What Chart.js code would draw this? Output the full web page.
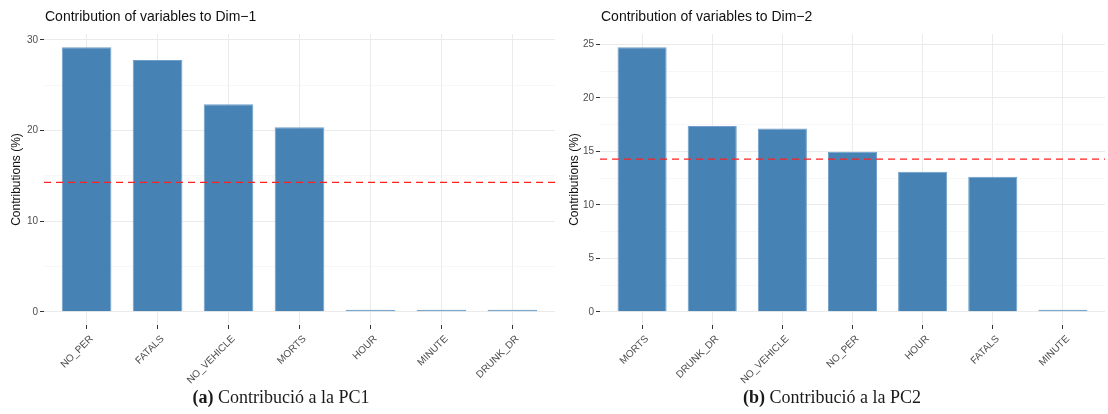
<!DOCTYPE html>
<html>
<head>
<meta charset="utf-8">
<script src="https://cdn.jsdelivr.net/npm/chart.js@4/dist/chart.umd.min.js"></script>
<style>
  body { margin: 0; background: #fff; width: 1108px; height: 414px; position: relative; overflow: hidden; }
  canvas { position: absolute; top: 0; }
  #c1 { left: 0; }
  #c2 { left: 558px; }
  .cap { position: absolute; top: 387px; width: 400px; text-align: center;
         font-family: "Liberation Serif", "DejaVu Serif", serif; font-size: 18px; color: #1a1a1a; }
</style>
</head>
<body>
<canvas id="c1" width="558" height="390"></canvas>
<canvas id="c2" width="550" height="390"></canvas>
<div class="cap" style="left:81px"><b>(a)</b> Contribució a la PC1</div>
<div class="cap" style="left:632px"><b>(b)</b> Contribució a la PC2</div>
<script>
// data
const categories1 = ['NO_PER', 'FATALS', 'NO_VEHICLE', 'MORTS', 'HOUR', 'MINUTE', 'DRUNK_DR'];
const values1 = [29.19, 27.78, 22.89, 20.37, 0.13, 0.11, 0.12];
const categories2 = ['MORTS', 'DRUNK_DR', 'NO_VEHICLE', 'NO_PER', 'HOUR', 'FATALS', 'MINUTE'];
const values2 = [24.75, 17.39, 17.14, 14.97, 13.10, 12.64, 0.19];
const majorTicks1 = [0, 10, 20, 30];
const minorTicks1 = [5, 15, 25];
const majorTicks2 = [0, 5, 10, 15, 20, 25];
const minorTicks2 = [2.5, 7.5, 12.5, 17.5, 22.5];
const refLine = 100 / 7; // expected average contribution (red dashed line)

const BAR = '#4682B4';
const TEXT = '#4d4d4d';

// title aligned with the panel like ggplot
const panelTitle = {
  id: 'panelTitle',
  afterDraw(chart, args, opts) {
    const ctx = chart.ctx;
    ctx.save();
    ctx.font = '14px "Liberation Sans", Arial, sans-serif';
    ctx.fillStyle = '#111';
    ctx.textBaseline = 'alphabetic';
    ctx.fillText(opts.text, chart.chartArea.left + 1, 21);
    ctx.restore();
  }
};

function makeChart(id, cats, vals, majors, minors, title, yWidth, rightPad) {
  const top = Math.max(...vals);
  const ctx = document.getElementById(id).getContext('2d');
  const H = ctx.canvas.height;
  return new Chart(ctx, {
    type: 'bar',
    data: {
      datasets: [
        {
          type: 'line',
          data: [{ x: -0.6, y: refLine }, { x: cats.length - 0.4, y: refLine }],
          borderColor: '#ff2020',
          borderWidth: 1.3,
          borderDash: [7, 5],
          pointRadius: 0,
          order: 0
        },
        {
          data: vals.map((v, i) => ({ x: i, y: v })),
          backgroundColor: BAR,
          borderColor: '#6f9fca',
          borderWidth: 1,
          minBarLength: 2,
          barPercentage: 0.7,
          categoryPercentage: 1,
          order: 1
        }
      ]
    },
    options: {
      responsive: false,
      animation: false,
      devicePixelRatio: 1,
      layout: { padding: { top: 34, left: 0, right: rightPad, bottom: 0 } },
      plugins: {
        legend: { display: false },
        tooltip: { enabled: false },
        panelTitle: { text: title }
      },
      scales: {
        x: {
          type: 'linear',
          min: -0.6,
          max: cats.length - 0.4,
          offset: false,
          afterBuildTicks: (scale) => { scale.ticks = cats.map((c, i) => ({ value: i })); },
          afterFit: (scale) => { scale.height = H - 325; },
          border: { display: false },
          grid: { offset: false, color: '#ebebeb', lineWidth: 1, tickLength: 4, tickColor: '#333' },
          ticks: {
            autoSkip: false,
            minRotation: 45,
            maxRotation: 45,
            padding: 4,
            labelOffset: 5,
            color: TEXT,
            font: { family: '"Liberation Sans", Arial, sans-serif', size: 10 },
            callback: (v) => cats[v]
          }
        },
        y: {
          min: -0.05 * top,
          max: 1.05 * top,
          afterBuildTicks: (scale) => {
            scale.ticks = majors.concat(minors).sort((a, b) => a - b).map(v => ({ value: v }));
          },
          afterFit: (scale) => { scale.width = yWidth; },
          border: { display: false },
          grid: {
            color: (c) => majors.includes(c.tick.value) ? '#ebebeb' : '#f3f3f3',
            lineWidth: (c) => majors.includes(c.tick.value) ? 1 : 0.7,
            tickLength: 4,
            tickColor: (c) => majors.includes(c.tick.value) ? '#333' : 'rgba(0,0,0,0)'
          },
          ticks: {
            padding: 2,
            color: TEXT,
            font: { family: '"Liberation Sans", Arial, sans-serif', size: 10 },
            callback: (v) => majors.includes(v) ? String(v) : ''
          },
          title: {
            display: true,
            text: 'Contributions (%)',
            color: '#111',
            padding: { top: 9, bottom: 0 },
            font: { family: '"Liberation Sans", Arial, sans-serif', size: 12 }
          }
        }
      }
    },
    plugins: [panelTitle]
  });
}

makeChart('c1', categories1, values1, majorTicks1, minorTicks1, 'Contribution of variables to Dim\u22121', 44, 3);
makeChart('c2', categories2, values2, majorTicks2, minorTicks2, 'Contribution of variables to Dim\u22122', 42, 3);
</script>
</body>
</html>
